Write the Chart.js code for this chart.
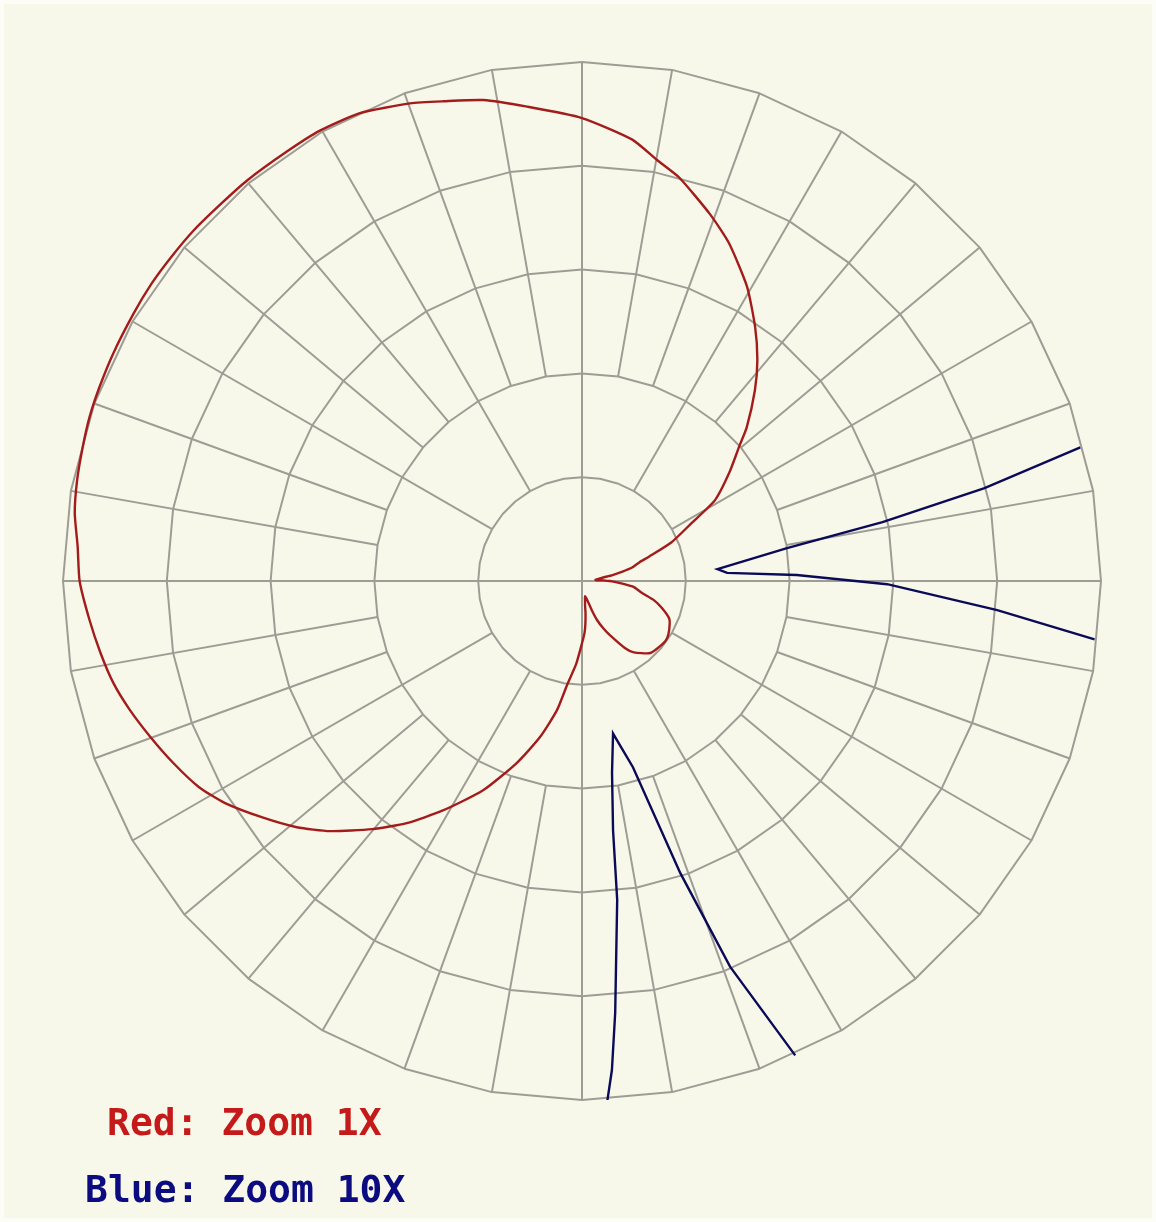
<!DOCTYPE html>
<html>
<head>
<meta charset="utf-8">
<script src="https://cdn.jsdelivr.net/npm/chart.js@4.4.1/dist/chart.umd.min.js"></script>
<style>
body { margin: 0; background: #fdfdf7; }
#wrap { position: relative; width: 1156px; height: 1222px; }
#paper { position: absolute; left: 4px; top: 4px; right: 4px; bottom: 4px; background: #f8f8ea; }
#c { position: absolute; left: 0; top: 0; }
.lbl { position: absolute; font-family: "DejaVu Sans Mono", monospace; font-weight: bold; font-size: 38px; line-height: 38px; white-space: pre; }
#lblRed { left: 107px; top: 1103px; color: #c41a1a; }
#lblBlue { left: 85px; top: 1170px; color: #0c0c80; }
</style>
</head>
<body>
<div id="wrap">
    <div id="paper"></div>
    <canvas id="c" width="1156" height="1222"></canvas>
    <div class="lbl" id="lblRed">Red: Zoom 1X</div>
    <div class="lbl" id="lblBlue">Blue: Zoom 10X</div>
</div>
<script>
// pattern: angle in degrees (0 = right, counter-clockwise), radius in rings (outer ring = 5)
var redAngles = [0, 1.6, 3.2, 5, 7, 9, 11, 13, 15, 18, 20, 23.4, 27.8, 31.3, 36.3, 40.5, 43, 47.8, 51.6, 55.7,
    60.7, 66.5, 70.7, 76.5, 79.9, 83.5, 90, 96.6, 101.6, 106.1, 109.8, 115.4, 120.2, 124.5, 129.9, 133.8,
    137.9, 141.8, 145.4, 149.2, 154.1, 158.1, 161.6, 165, 168.7, 172.4, 176.1, 180, 184.5, 188.5, 192.3,
    195.9, 199.9, 204, 208.3, 211.9, 216.5, 220.8, 224.8, 229.8, 234.1, 238.7, 244.7, 250.3, 254.9, 259,
    262, 266, 270, 272.8, 274.4, 276.3, 277.1, 278.9, 281.2, 285.3, 288.6, 291, 294.2, 297, 302.7, 306,
    312.9, 317, 324.1, 328, 334, 337, 341.4, 345, 348.7, 353.5, 356, 359.4];
var redRadii = [0.26, 0.21, 0.14, 0.13, 0.16, 0.20, 0.30, 0.40, 0.50, 0.58, 0.69, 0.94, 1.19, 1.50, 1.76, 1.99, 2.17, 2.48, 2.72, 2.96,
    3.25, 3.55, 3.74, 4.00, 4.12, 4.28, 4.46, 4.60, 4.73, 4.81, 4.89, 4.99, 5.02, 5.02, 5.03, 5.03,
    5.04, 5.04, 5.04, 5.03, 5.02, 5.01, 5.00, 4.98, 4.96, 4.93, 4.87, 4.84, 4.76, 4.69, 4.62,
    4.53, 4.42, 4.31, 4.19, 4.05, 3.83, 3.63, 3.42, 3.13, 2.88, 2.59, 2.23, 1.86, 1.56, 1.27,
    1.00, 0.80, 0.60, 0.50, 0.42, 0.31, 0.24, 0.19, 0.15, 0.19, 0.30, 0.40, 0.50, 0.58, 0.77, 0.85,
    0.95, 0.97, 0.99, 0.98, 0.94, 0.91, 0.81, 0.72, 0.59, 0.50, 0.40, 0.29];

// the 10x zoom, only the parts that stay inside the outer ring
var blueNullAAngles = [353.5, 356, 359.4, 1.6, 3.2, 5.0, 9.1, 11.1, 13.0, 15.0];
var blueNullARadii = [4.97, 4.01, 2.94, 2.07, 1.40, 1.31, 2.00, 2.95, 3.98, 4.97];
var blueNullBAngles = [272.8, 273.5, 274.4, 276.3, 277.1, 278.9, 281.5, 285.3, 288.6, 291.0, 294.2];
var blueNullBRadii = [5.01, 4.72, 4.17, 3.09, 2.42, 1.87, 1.50, 1.86, 2.97, 3.98, 5.01];

var ringValues = [1, 2, 3, 4, 5];
var gridColor = '#9d9d95';

function toXY(angles, radii, close) {
    var pts = [];
    for (var i = 0; i < angles.length; i++) {
        var a = angles[i] * Math.PI / 180;
        pts.push({ x: radii[i] * Math.cos(a), y: radii[i] * Math.sin(a) });
    }
    if (close) pts.push(pts[0]);
    return pts;
}

var polarGrid = {
    id: 'polarGrid',
    beforeDatasetsDraw: function(chart) {
        var ctx = chart.ctx;
        var sx = chart.scales.x, sy = chart.scales.y;
        function px(r, deg) {
            var a = deg * Math.PI / 180;
            return [sx.getPixelForValue(r * Math.cos(a)), sy.getPixelForValue(r * Math.sin(a))];
        }
        ctx.save();
        ctx.strokeStyle = gridColor;
        ctx.lineWidth = 2;
        ctx.lineJoin = 'round';
        // rings, drawn through the spoke points
        ringValues.forEach(function(r) {
            ctx.beginPath();
            for (var d = 0; d <= 360; d += 10) {
                var p = px(r, d);
                if (d === 0) ctx.moveTo(p[0], p[1]); else ctx.lineTo(p[0], p[1]);
            }
            ctx.stroke();
        });
        // spokes: axes from centre, 30 deg from ring 1, the rest from ring 2
        for (var d = 0; d < 360; d += 10) {
            var from = 2;
            if (d % 90 === 0) from = 0;
            else if (d % 30 === 0) from = 1;
            var p0 = px(from, d), p1 = px(ringValues[ringValues.length - 1], d);
            ctx.beginPath();
            ctx.moveTo(p0[0], p0[1]);
            ctx.lineTo(p1[0], p1[1]);
            ctx.stroke();
        }
        ctx.restore();
    }
};

new Chart(document.getElementById('c'), {
    type: 'scatter',
    data: {
        datasets: [
            { label: 'Red: Zoom 1X', data: toXY(redAngles, redRadii, true), showLine: true, borderColor: '#a31c1c', borderWidth: 2.4, pointRadius: 0, tension: 0.2 },
            { label: 'Blue: Zoom 10X', data: toXY(blueNullAAngles, blueNullARadii, false), showLine: true, borderColor: '#0a0a58', borderWidth: 2.4, pointRadius: 0, tension: 0 },
            { label: 'Blue: Zoom 10X', data: toXY(blueNullBAngles, blueNullBRadii, false), showLine: true, borderColor: '#0a0a58', borderWidth: 2.4, pointRadius: 0, tension: 0 }
        ]
    },
    options: {
        responsive: false,
        animation: false,
        devicePixelRatio: 1,
        layout: { padding: { left: 63, right: 55, top: 62, bottom: 122 } },
        plugins: { legend: { display: false }, tooltip: { enabled: false } },
        scales: {
            x: { type: 'linear', min: -5, max: 5, display: false },
            y: { type: 'linear', min: -5, max: 5, display: false }
        }
    },
    plugins: [polarGrid]
});
</script>
</body>
</html>
